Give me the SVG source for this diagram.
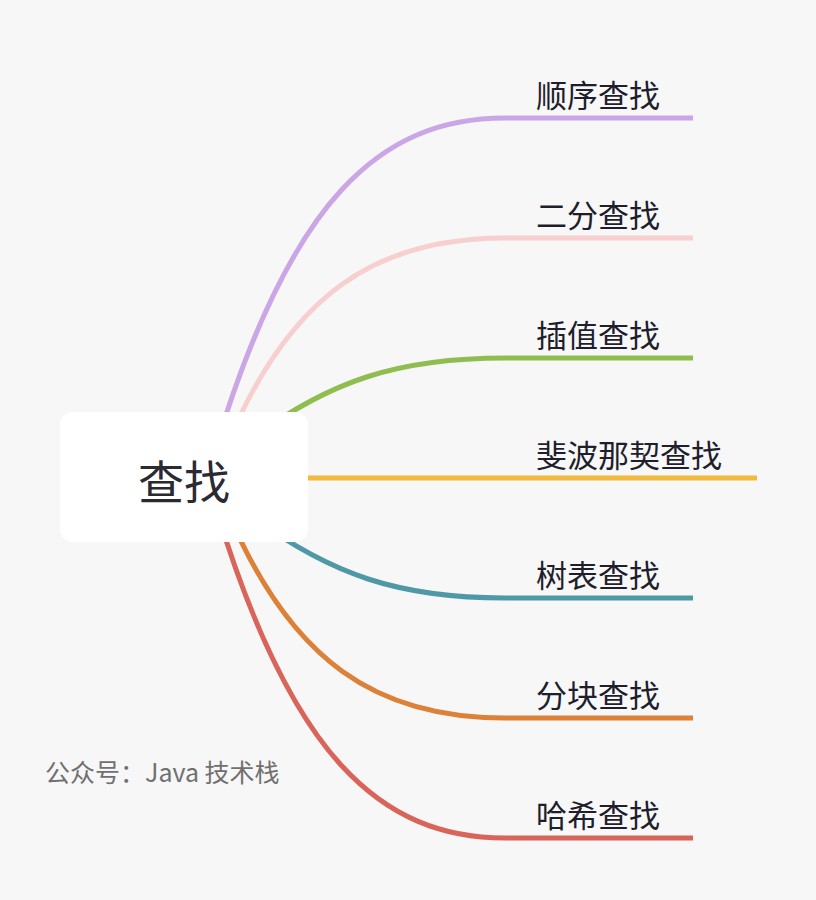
<svg xmlns="http://www.w3.org/2000/svg" width="816" height="900" viewBox="0 0 816 900">
<style>
.br{fill:none;stroke-width:5;stroke-linecap:butt}
.lbl{font-family:"Noto Sans CJK SC","Noto Sans",sans-serif;font-size:31px;fill:#1e1e2c}
.root{font-family:"Noto Sans CJK SC","Noto Sans",sans-serif;font-size:46px;fill:#2a2a33}
.wm{font-family:"Noto Sans CJK SC","Noto Sans",sans-serif;font-size:25px;fill:#707070}
</style>
<rect x="0" y="0" width="816" height="900" fill="#f7f7f7"/>
<g id="connectors">
<path class="br" stroke="#cba6e6" d="M 215 450 C 290 200, 380 118, 505 118 L 693 118"/>
<path class="br" stroke="#f8cfcf" d="M 225 450 C 290 290, 380 238, 505 238 L 693 238"/>
<path class="br" stroke="#8fbd50" d="M 250 440 C 330 380, 400 358, 505 358 L 693 358"/>
<path class="br" stroke="#f2b93f" d="M 300 478 L 757 478"/>
<path class="br" stroke="#4f98a6" d="M 250 515 C 330 575, 400 598, 505 598 L 693 598"/>
<path class="br" stroke="#dd8138" d="M 225 505 C 290 665, 380 718, 505 718 L 693 718"/>
<path class="br" stroke="#d9645a" d="M 215 505 C 290 755, 380 838, 505 838 L 693 838"/>
</g>
<g id="root">
<rect x="60" y="412" width="248" height="130" rx="13" fill="#ffffff"/>
<text class="root" x="184" y="499" text-anchor="middle">查找</text>
</g>
<g id="n1"><text class="lbl" x="536" y="107">顺序查找</text></g>
<g id="n2"><text class="lbl" x="536" y="227">二分查找</text></g>
<g id="n3"><text class="lbl" x="536" y="347">插值查找</text></g>
<g id="n4"><text class="lbl" x="536" y="467">斐波那契查找</text></g>
<g id="n5"><text class="lbl" x="536" y="587">树表查找</text></g>
<g id="n6"><text class="lbl" x="536" y="707">分块查找</text></g>
<g id="n7"><text class="lbl" x="536" y="827">哈希查找</text></g>
<text class="wm" x="45" y="782">公众号：Java 技术栈</text>
</svg>
